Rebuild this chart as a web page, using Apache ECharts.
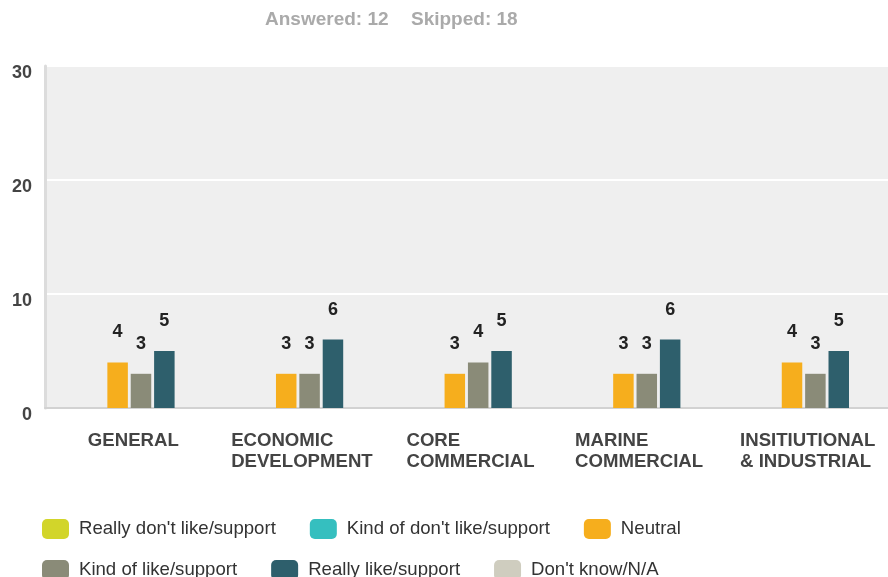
<!DOCTYPE html>
<html>
<head>
<meta charset="utf-8">
<script src="https://cdn.jsdelivr.net/npm/echarts@6/dist/echarts.min.js"></script>
<style>
html,body{margin:0;padding:0;background:#fff;}
#chart{width:888px;height:577px;}
</style>
</head>
<body>
<div id="chart"></div>
<script>
const categories = ['GENERAL', 'ECONOMIC\nDEVELOPMENT', 'CORE\nCOMMERCIAL', 'MARINE\nCOMMERCIAL', 'INSITIUTIONAL\n& INDUSTRIAL'];
const seriesNames = ["Really don't like/support", "Kind of don't like/support", 'Neutral', 'Kind of like/support', 'Really like/support', "Don't know/N/A"];
const reallyDontLike = [0, 0, 0, 0, 0];
const kindOfDontLike = [0, 0, 0, 0, 0];
const neutral = [4, 3, 3, 3, 4];
const kindOfLike = [3, 3, 4, 3, 3];
const reallyLike = [5, 6, 5, 6, 5];
const dontKnow = [0, 0, 0, 0, 0];
const yTicks = [0, 10, 20, 30];
const answeredText = 'Answered: 12';
const skippedText = 'Skipped: 18';

const seriesData = [reallyDontLike, kindOfDontLike, neutral, kindOfLike, reallyLike, dontKnow];
const colors = ['#d2d52a', '#35bfbf', '#f6ae1d', '#8a8b78', '#2e5f6c', '#cfcdbf'];
const FONT = "'Liberation Sans', Arial, sans-serif";

const chart = echarts.init(document.getElementById('chart'), null, {renderer: 'canvas'});
chart.setOption({
  animation: false,
  color: colors,
  title: [
    {text: answeredText, left: 265, top: 10, padding: 0,
     textStyle: {fontFamily: FONT, fontSize: 19, fontWeight: 'bold', color: '#aaaaaa'}},
    {text: skippedText, left: 411, top: 10, padding: 0,
     textStyle: {fontFamily: FONT, fontSize: 19, fontWeight: 'bold', color: '#aaaaaa'}}
  ],
  grid: {left: 45, top: 66, width: 852, height: 342, show: true, backgroundColor: '#efefef', borderWidth: 0, containLabel: false},
  legend: [
    {data: seriesNames.slice(0, 3), left: 42, top: 519, padding: 0, itemWidth: 27, itemHeight: 20, itemGap: 34,
     icon: 'roundRect', textStyle: {fontFamily: FONT, fontSize: 18.6, color: '#333', padding: [0, 0, 0, 5]}},
    {data: seriesNames.slice(3), left: 42, top: 560, padding: 0, itemWidth: 27, itemHeight: 20, itemGap: 34,
     icon: 'roundRect', textStyle: {fontFamily: FONT, fontSize: 18.6, color: '#333', padding: [0, 0, 0, 5]}}
  ],
  xAxis: {
    type: 'category',
    data: categories,
    axisLine: {show: true, lineStyle: {color: '#d2d2d2', width: 2}},
    axisTick: {show: false},
    axisLabel: {
      interval: 0,
      margin: 22,
      padding: [0, 0, 0, 8],
      formatter: function (v) { return v.split('\n').map(function (s) { return '{a|' + s + '}'; }).join('\n'); },
      rich: {a: {align: 'left', fontFamily: FONT, fontSize: 18.6, fontWeight: 'bold', color: '#444', lineHeight: 21}}
    }
  },
  yAxis: {
    type: 'value',
    min: yTicks[0],
    max: yTicks[yTicks.length - 1],
    interval: yTicks[1] - yTicks[0],
    axisLine: {show: true, lineStyle: {color: '#dcdcdc', width: 3}},
    axisTick: {show: false},
    splitLine: {show: true, lineStyle: {color: '#ffffff', width: 2}},
    axisLabel: {margin: 13, fontFamily: FONT, fontSize: 18, fontWeight: 'bold', color: '#444', verticalAlign: 'top', lineHeight: 14}
  },
  series: seriesNames.map(function (name, i) {
    return {
      name: name,
      type: 'bar',
      data: seriesData[i],
      barWidth: 20.5,
      barGap: '14%',
      itemStyle: {color: colors[i]},
      label: {
        show: true,
        position: 'top',
        distance: 21,
        fontFamily: FONT,
        fontSize: 18,
        fontWeight: 'bold',
        color: '#222',
        formatter: function (p) { return p.value ? String(p.value) : ''; }
      }
    };
  })
});
</script>
</body>
</html>
